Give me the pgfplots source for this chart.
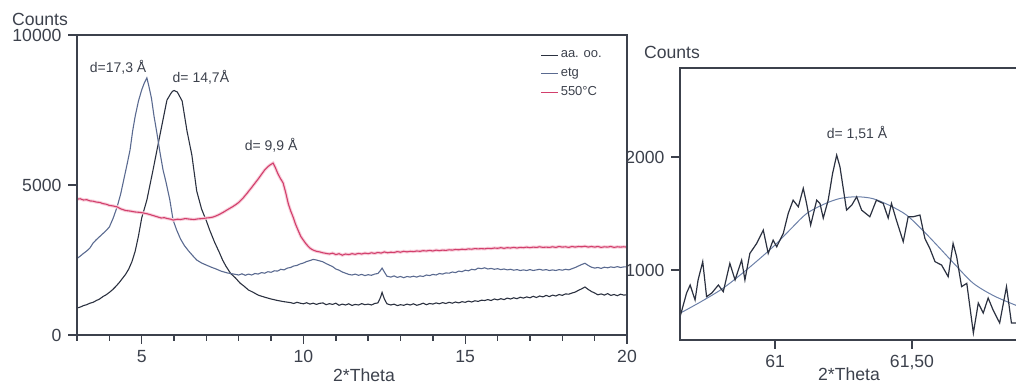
\documentclass[border=0pt]{standalone}
\usepackage{pgfplots}
\pgfplotsset{compat=1.18}
\usepackage{fontspec}
\setmainfont{Liberation Sans}
\definecolor{cAA}{HTML}{2B3140}
\definecolor{cETG}{HTML}{5A6A90}
\definecolor{cRED}{HTML}{D23F6C}
\definecolor{cGLOW}{HTML}{F8D0DC}
\definecolor{cAX}{HTML}{3C414C}
\definecolor{cFIT}{HTML}{6C80A8}
\newcommand{\tickfont}{\fontsize{8.8}{10}\selectfont}
\newcommand{\annfont}{\fontsize{7}{8}\selectfont}
\pgfplotsset{every tick/.append style={cAX, line width=0.7pt}}
\begin{document}
\begin{tikzpicture}
\useasboundingbox (0,0) rectangle (508pt,192.5pt);
\begin{axis}[
  at={(38.5pt,25pt)}, anchor=south west, scale only axis,
  width=275pt, height=150pt,
  xmin=3, xmax=20, ymin=0, ymax=10000,
  xtick={5,10,15,20}, minor xtick={3,4,...,20},
  ytick={0,5000,10000},
  scaled ticks=false,
  /pgf/number format/1000 sep={},
  /pgf/number format/assume math mode=true,
  tick pos=left, tick align=outside,
  axis on top,
  tick label style={font=\tickfont, text=cAX},
  axis line style={cAX, line width=0.6pt},
  xlabel={2*Theta}, xlabel style={font=\tickfont, text=cAX, yshift=4pt, xshift=6pt},
  legend style={at={(0.842,0.955)}, anchor=north west, draw=none, fill=none,
    font=\fontsize{6.5}{7}\selectfont, row sep=1.5pt, inner sep=0pt,
    nodes={text=cAX, inner sep=1pt}},
  legend cell align=left,
  legend image code/.code={\draw[#1, line width=0.6pt] (0cm,0cm) -- (0.3cm,0cm);},
  clip=true,
]
% aa. oo.
\addplot[cAA, line width=0.55pt] coordinates {
(3.0,900)(3.1,930)(3.2,980)(3.3,1010)(3.4,1060)(3.5,1090)(3.6,1150)(3.7,1200)(3.8,1280)(3.9,1340)(4.0,1420)(4.1,1510)(4.2,1620)(4.3,1740)(4.4,1880)(4.5,2020)(4.6,2200)(4.7,2450)(4.8,2800)(4.9,3300)(5.0,3900)(5.16,4500)(5.35,5500)(5.57,6700)(5.78,7830)(5.9,8050)(5.95,8120)(6.0,8150)(6.1,8100)(6.25,7800)(6.4,6800)(6.55,6000)(6.7,4800)(6.85,4200)(7.0,3800)(7.1,3500)(7.25,3100)(7.4,2750)(7.5,2500)(7.6,2300)(7.75,2050)(7.9,1900)(8.04,1730)(8.15,1640)(8.3,1500)(8.45,1420)(8.6,1330)(8.8,1260)(9.0,1200)(9.2,1150)(9.4,1110)
(9.6,1080)(9.7,1050)(9.8,1090)(9.9,1060)(10.0,1040)(10.1,1075)(10.2,1030)(10.3,1060)(10.4,1020)(10.5,1055)(10.6,1070)(10.7,1010)(10.8,1045)(10.9,1020)(11.0,1060)(11.1,990)(11.2,1030)(11.3,1000)(11.4,1040)(11.5,985)(11.6,1020)(11.7,1000)(11.8,1045)(11.9,1010)(12.0,1030)(12.1,1000)(12.2,1050)(12.3,1070)(12.38,1250)(12.43,1420)(12.5,1200)(12.58,1040)(12.7,1000)(12.8,1030)(12.9,980)(13.0,1010)(13.1,990)(13.2,1030)(13.3,1000)(13.4,1040)(13.5,990)(13.6,1020)(13.7,1060)(13.8,1010)(13.9,1050)(14.0,1030)(14.1,1070)(14.2,1040)(14.3,1080)(14.4,1050)(14.5,1090)(14.6,1060)(14.7,1100)(14.8,1070)(14.9,1110)(15.0,1090)(15.1,1130)(15.2,1100)(15.3,1140)(15.4,1120)(15.5,1160)(15.6,1150)(15.7,1180)(15.8,1150)(15.9,1200)(16.0,1170)(16.1,1210)(16.2,1180)(16.3,1230)(16.4,1200)(16.5,1240)(16.6,1210)(16.7,1260)(16.8,1230)(16.9,1270)(17.0,1240)(17.1,1290)(17.2,1250)(17.3,1300)(17.4,1270)(17.5,1320)(17.6,1280)(17.7,1330)(17.8,1300)(17.9,1350)(18.0,1320)(18.1,1370)(18.2,1360)(18.3,1400)(18.4,1430)(18.5,1490)(18.6,1540)(18.7,1600)(18.8,1520)(18.9,1450)(19.0,1400)(19.1,1340)(19.2,1370)(19.3,1330)(19.4,1380)(19.5,1320)(19.6,1350)(19.7,1310)(19.8,1360)(19.9,1330)(20.0,1340)
};
\addlegendentry{aa. oo.}
% etg
\addplot[cETG, line width=0.55pt] coordinates {
(3.0,2550)(3.1,2630)(3.2,2720)(3.3,2800)(3.4,2900)(3.5,3070)(3.6,3180)(3.7,3280)(3.8,3380)(3.9,3480)(4.0,3600)(4.12,3900)(4.24,4270)(4.35,4700)(4.45,5200)(4.55,5700)(4.64,6170)(4.72,6800)(4.8,7300)(4.9,7800)(5.0,8170)(5.08,8400)(5.16,8570)(5.22,8300)(5.3,7900)(5.38,7300)(5.47,6730)(5.57,6050)(5.66,5500)(5.75,5100)(5.87,4500)(5.97,3830)(6.08,3500)(6.2,3200)(6.32,2980)(6.45,2800)(6.58,2640)(6.7,2500)(6.85,2400)(7.0,2330)(7.15,2260)(7.3,2200)(7.45,2130)(7.64,2070)(7.8,2040)
(8.0,2000)(8.1,2040)(8.2,1990)(8.3,2030)(8.4,2000)(8.5,2050)(8.6,2030)(8.7,2080)(8.8,2060)(8.9,2110)(9.0,2090)(9.1,2140)(9.2,2130)(9.3,2190)(9.4,2170)(9.5,2230)(9.6,2250)(9.7,2300)(9.8,2320)(9.9,2370)(10.0,2400)(10.1,2450)(10.2,2480)(10.3,2520)(10.4,2500)(10.5,2470)(10.6,2440)(10.7,2380)(10.8,2330)(10.9,2280)(11.0,2200)(11.1,2160)(11.2,2100)(11.3,2060)(11.4,2020)(11.5,2000)(11.6,2030)(11.7,1990)(11.8,2020)(11.9,1980)(12.0,2010)(12.1,1990)(12.2,2030)(12.3,2050)(12.38,2150)(12.43,2230)(12.5,2100)(12.58,1960)(12.7,1930)(12.8,1970)(12.9,1920)(13.0,1950)(13.1,1910)(13.2,1950)(13.3,1930)(13.4,1960)(13.5,1930)(13.6,1970)(13.7,1950)(13.8,2000)(13.9,1980)(14.0,2020)(14.1,2000)(14.2,2050)(14.3,2030)(14.4,2070)(14.5,2060)(14.6,2100)(14.7,2080)(14.8,2130)(14.9,2110)(15.0,2160)(15.1,2140)(15.2,2190)(15.3,2170)(15.4,2230)(15.5,2210)(15.6,2240)(15.7,2200)(15.8,2220)(15.9,2190)(16.0,2210)(16.1,2180)(16.2,2200)(16.3,2170)(16.4,2190)(16.5,2160)(16.6,2180)(16.7,2150)(16.8,2170)(16.9,2150)(17.0,2180)(17.1,2150)(17.2,2170)(17.3,2190)(17.4,2160)(17.5,2180)(17.6,2150)(17.7,2170)(17.8,2150)(17.9,2180)(18.0,2160)(18.1,2190)(18.2,2170)(18.3,2210)(18.4,2250)(18.5,2300)(18.6,2350)(18.7,2390)(18.8,2320)(18.9,2260)(19.0,2230)(19.1,2250)(19.2,2220)(19.3,2260)(19.4,2240)(19.5,2270)(19.6,2250)(19.7,2280)(19.8,2250)(19.9,2270)(20.0,2270)
};
\addlegendentry{etg}
% 550 C
\pgfplotstableread{
x y
3.0 4530
3.1 4540
3.2 4500
3.3 4510
3.4 4470
3.5 4460
3.6 4430
3.7 4420
3.8 4380
3.9 4360
4.0 4320
4.12 4300
4.24 4270
4.36 4200
4.5 4150
4.65 4130
4.8 4100
4.92 4090
5.04 4070
5.17 4040
5.3 4000
5.45 3950
5.6 3900
5.7 3910
5.8 3880
5.9 3860
5.97 3830
6.1 3860
6.2 3850
6.35 3880
6.5 3860
6.62 3850
6.74 3870
6.87 3880
7.0 3900
7.1 3910
7.2 3930
7.3 3970
7.4 4020
7.52 4090
7.64 4170
7.8 4270
7.9 4340
8.0 4420
8.13 4560
8.26 4730
8.4 4920
8.5 5060
8.6 5200
8.7 5350
8.8 5500
8.9 5610
8.97 5670
9.06 5730
9.13 5580
9.2 5400
9.28 5230
9.37 5070
9.45 4750
9.53 4380
9.6 4150
9.68 3930
9.76 3680
9.85 3450
9.92 3280
9.99 3170
10.07 3050
10.15 2950
10.22 2880
10.3 2830
10.4 2790
10.5 2770
10.6 2740
10.7 2720
10.8 2700
10.9 2730
11.0 2680
11.1 2710
11.2 2660
11.3 2700
11.4 2680
11.5 2710
11.6 2690
11.7 2720
11.8 2700
11.9 2730
12.0 2710
12.1 2740
12.2 2720
12.3 2750
12.4 2730
12.5 2770
12.6 2740
12.7 2760
12.8 2750
12.9 2780
13.0 2760
13.1 2790
13.2 2770
13.3 2790
13.4 2780
13.5 2800
13.6 2790
13.7 2810
13.8 2800
13.9 2820
14.0 2800
14.1 2830
14.2 2810
14.3 2830
14.4 2820
14.5 2840
14.6 2830
14.7 2850
14.8 2840
14.9 2860
15.0 2850
15.1 2870
15.2 2860
15.3 2880
15.4 2870
15.5 2880
15.6 2870
15.7 2890
15.8 2880
15.9 2900
16.0 2890
16.1 2910
16.2 2890
16.3 2910
16.4 2900
16.5 2920
16.6 2900
16.7 2920
16.8 2910
16.9 2930
17.0 2910
17.1 2930
17.2 2920
17.3 2940
17.4 2920
17.5 2930
17.6 2920
17.7 2940
17.8 2920
17.9 2950
18.0 2930
18.1 2940
18.2 2920
18.3 2950
18.4 2930
18.5 2950
18.6 2940
18.7 2960
18.8 2930
18.9 2950
19.0 2930
19.1 2950
19.2 2920
19.3 2940
19.4 2930
19.5 2950
19.6 2920
19.7 2940
19.8 2930
19.9 2940
20.0 2930
}\redtable
\addplot[cGLOW, line width=1.6pt, forget plot] table[x=x,y=y] {\redtable};
\addplot[cRED, line width=0.55pt] table[x=x,y=y] {\redtable};
\addlegendentry{550°C}
\node[font=\annfont, text=cAX] at (axis cs:4.27,8930) {d=17,3 Å};
\node[font=\annfont, text=cAX] at (axis cs:6.83,8600) {d= 14,7Å};
\node[font=\annfont, text=cAX] at (axis cs:9.0,6330) {d= 9,9 Å};
\end{axis}
\node[font=\tickfont, text=cAX] at (20pt,183pt) {Counts};
\begin{axis}[
  at={(340pt,22.5pt)}, anchor=south west, scale only axis,
  width=169pt, height=136pt,
  xmin=60.653, xmax=61.887, ymin=380, ymax=2790,
  xtick={61,61.5}, xticklabels={61,{61,50}},
  ytick={1000,2000},
  scaled ticks=false,
  /pgf/number format/1000 sep={},
  /pgf/number format/assume math mode=true,
  tick pos=left, tick align=outside,
  axis on top,
  tick label style={font=\tickfont, text=cAX},
  axis line style={cAX, line width=0.6pt},
  xlabel={2*Theta}, xlabel style={font=\tickfont, text=cAX, yshift=8pt},
  clip=true,
]
\addplot[cFIT, line width=0.5pt, smooth] coordinates {
(60.653,617)(60.73,720)(60.811,840)(60.9,1010)(60.993,1206)(61.06,1370)(61.115,1500)(61.18,1585)(61.237,1634)(61.298,1649)(61.358,1632)(61.42,1570)(61.48,1487)(61.54,1350)(61.602,1192)(61.66,1040)(61.724,882)(61.8,770)(61.887,680)
};
\addplot[cAA, line width=0.6pt] coordinates {
(60.653,584)(60.677,796)(60.69,867)(60.708,735)(60.719,912)(60.736,1074)(60.75,764)(60.769,796)(60.793,867)(60.811,808)(60.835,1059)(60.854,912)(60.878,1088)(60.89,912)(60.908,1147)(60.933,1236)(60.957,1354)(60.975,1147)(60.993,1265)(61.006,1206)(61.03,1324)(61.048,1501)(61.066,1619)(61.085,1560)(61.103,1724)(61.115,1590)(61.13,1398)(61.152,1619)(61.164,1590)(61.176,1460)(61.194,1619)(61.21,1855)(61.225,2018)(61.237,1914)(61.261,1531)(61.28,1575)(61.298,1649)(61.316,1531)(61.346,1472)(61.37,1619)(61.395,1590)(61.413,1460)(61.425,1590)(61.443,1442)(61.468,1251)(61.486,1472)(61.504,1472)(61.529,1487)(61.547,1280)(61.565,1192)(61.584,1074)(61.608,1044)(61.632,941)(61.65,1236)(61.663,1118)(61.681,853)(61.7,882)(61.724,442)(61.742,708)(61.76,619)(61.778,752)(61.796,646)(61.82,531)(61.845,853)(61.863,531)(61.887,531)
};
\node[font=\annfont, text=cAX] at (axis cs:61.299,2212) {d= 1,51 Å};
\end{axis}
\node[font=\tickfont, text=cAX] at (336pt,166.5pt) {Counts};
\end{tikzpicture}
\end{document}
